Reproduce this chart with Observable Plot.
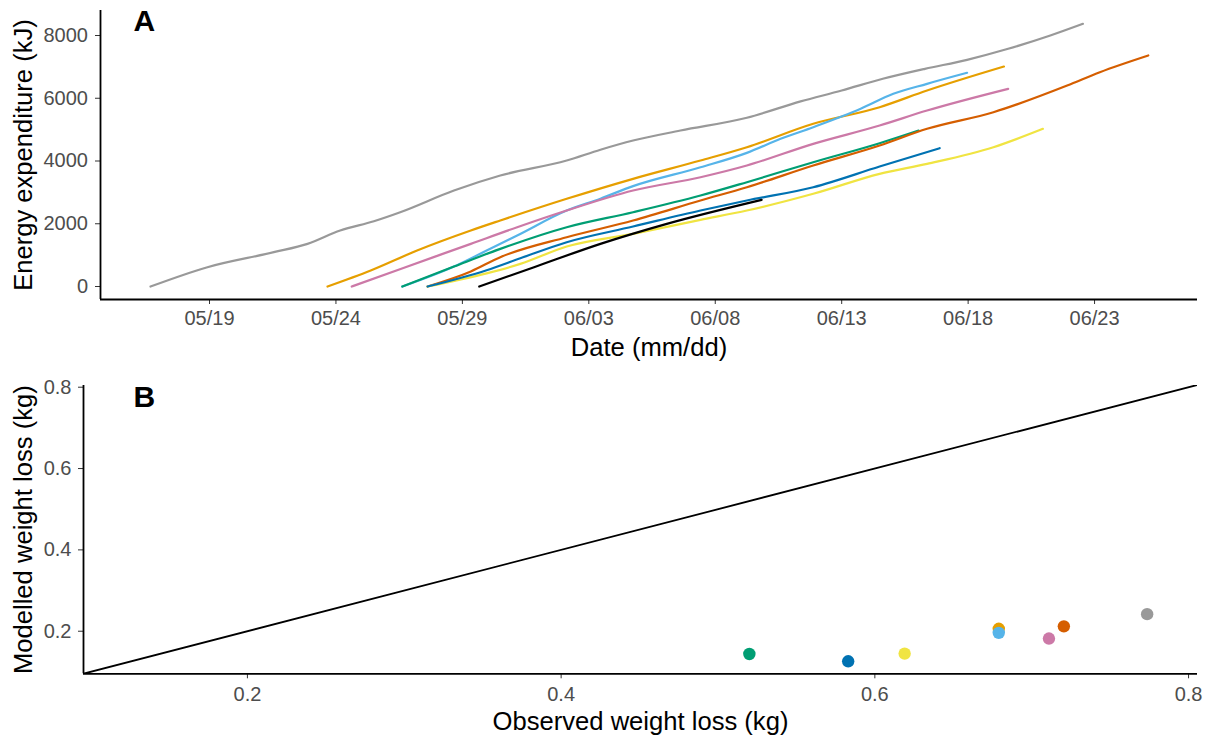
<!DOCTYPE html>
<html><head><meta charset="utf-8">
<script src="https://cdn.jsdelivr.net/npm/d3@7"></script>
<script src="https://cdn.jsdelivr.net/npm/@observablehq/plot@0.6"></script>
<style>body{margin:0;background:#fff} svg{display:block}</style>
</head><body><div id="chart"></div>
<script>
// ---------- Data: panel A (cumulative energy expenditure, kJ) ----------
const individuals = ["I1","I2","I3","I4","I5","I6","I7","I8","I9"];
const colors = ["#999999","#E69F00","#56B4E9","#CC79A7","#009E73","#D55E00","#F0E442","#0072B2","#000000"];

const ind1 = [["2020-05-16T16:00",0],["2020-05-18T22:00",616],["2020-05-21T13:00",1094],["2020-05-22T21:00",1360],["2020-05-24T04:00",1785],["2020-05-25T12:00",2081],["2020-05-26T13:00",2368],["2020-05-28T16:00",3060],["2020-05-30T12:00",3538],["2020-06-02T03:00",4016],["2020-06-03T11:00",4360],["2020-06-04T18:00",4653],["2020-06-06T15:00",4972],["2020-06-09T06:00",5380],["2020-06-11T09:00",5900],["2020-06-13T00:00",6247],["2020-06-14T15:00",6620],["2020-06-16T07:00",6938],["2020-06-17T23:00",7225],["2020-06-19T14:00",7576],["2020-06-21T06:00",8000],["2020-06-22T13:00",8373]];
const ind2 = [["2020-05-23T16:00",0],["2020-05-25T09:00",510],["2020-05-27T05:00",1147],["2020-05-29T08:00",1785],["2020-05-30T12:00",2104],["2020-06-02T03:00",2795],["2020-06-04T18:00",3432],["2020-06-07T10:00",4016],["2020-06-09T06:00",4440],["2020-06-11T21:00",5186],["2020-06-14T12:00",5715],["2020-06-16T09:00",6247],["2020-06-19T10:00",7012]];
const ind3 = [["2020-05-26T15:00",0],["2020-05-28T16:00",637],["2020-05-29T23:00",1147],["2020-05-31T04:00",1625],["2020-06-02T03:00",2420],["2020-06-03T11:00",2800],["2020-06-04T18:00",3200],["2020-06-07T10:00",3800],["2020-06-09T06:00",4260],["2020-06-10T14:00",4707],["2020-06-11T21:00",5078],["2020-06-13T18:00",5664],["2020-06-15T01:00",6141],["2020-06-16T09:00",6460],["2020-06-17T23:00",6811]];
const ind4 = [["2020-05-24T15:00",0],["2020-05-26T16:00",590],["2020-05-29T08:00",1360],["2020-05-31T04:00",1890],["2020-06-02T03:00",2422],["2020-06-04T18:00",3060],["2020-06-07T10:00",3484],["2020-06-09T06:00",3857],["2020-06-11T21:00",4547],["2020-06-14T12:00",5131],["2020-06-16T09:00",5609],["2020-06-19T14:00",6301]];
const ind5 = [["2020-05-26T15:00",0],["2020-05-28T16:00",637],["2020-05-30T12:00",1200],["2020-06-02T03:00",1890],["2020-06-04T18:00",2368],["2020-06-07T10:00",2900],["2020-06-09T06:00",3325],["2020-06-11T21:00",3962],["2020-06-14T12:00",4568],["2020-06-16T01:00",4972]];
const ind6 = [["2020-05-27T15:00",0],["2020-05-29T08:00",480],["2020-05-30T12:00",935],["2020-06-02T03:00",1571],["2020-06-04T18:00",2104],["2020-06-07T10:00",2741],["2020-06-09T06:00",3165],["2020-06-11T21:00",3857],["2020-06-14T12:00",4494],["2020-06-16T09:00",5026],["2020-06-19T00:00",5556],["2020-06-21T22:00",6406],["2020-06-23T05:00",6830],["2020-06-25T03:00",7363]];
const ind7 = [["2020-05-27T15:00",0],["2020-05-29T23:00",420],["2020-05-31T07:00",720],["2020-06-02T03:00",1275],["2020-06-04T18:00",1680],["2020-06-07T10:00",2126],["2020-06-09T06:00",2422],["2020-06-11T21:00",2955],["2020-06-14T12:00",3591],["2020-06-16T09:00",3910],["2020-06-19T00:00",4440],["2020-06-20T23:00",5026]];
const ind8 = [["2020-05-27T15:00",0],["2020-05-29T23:00",520],["2020-05-31T07:00",900],["2020-06-02T03:00",1412],["2020-06-04T18:00",1912],["2020-06-07T10:00",2422],["2020-06-09T06:00",2741],["2020-06-11T21:00",3165],["2020-06-14T12:00",3825],["2020-06-16T21:00",4409]];
const ind9 = [["2020-05-29T16:00",0],["2020-05-31T20:00",615],["2020-06-03T11:00",1360],["2020-06-06T02:00",1998],["2020-06-09T20:00",2763]];
const seriesA = [ind1, ind2, ind3, ind4, ind5, ind6, ind7, ind8, ind9];

const xTicksA = ["2020-05-19","2020-05-24","2020-05-29","2020-06-03","2020-06-08","2020-06-13","2020-06-18","2020-06-23"];
const yTicksA = [0, 2000, 4000, 6000, 8000];

// ---------- Data: panel B (weight loss, kg) ----------
const pointIds = ["I5","I8","I7","I2","I3","I4","I6","I1"];
const observed = [0.520, 0.583, 0.619, 0.679, 0.679, 0.711, 0.7205, 0.7736];
const modelled = [0.144, 0.126, 0.145, 0.206, 0.196, 0.182, 0.212, 0.242];
const ticksB = [0.2, 0.4, 0.6, 0.8];

// ---------- Build tables ----------
const parseT = d3.utcParse("%Y-%m-%dT%H:%M");
const parseD = d3.utcParse("%Y-%m-%d");
const rowsA = seriesA.flatMap((s, i) => s.map(([t, v]) => ({id: individuals[i], date: parseT(t), kJ: v})));
const rowsB = pointIds.map((id, i) => ({id, obs: observed[i], mod: modelled[i]}));

const FONT = "'Liberation Sans', Arial, Helvetica, sans-serif";
const TICK_FS = 20, TITLE_FS = 25.6, TAG_FS = 30;
const colorScale = {domain: individuals, range: colors};

const xDomA = [parseT("2020-05-14T16:32"), parseT("2020-06-27T01:42")];
const yDomA = [-414, 8797];

const plotA = Plot.plot({
  width: 1212, height: 360,
  marginLeft: 100, marginRight: 15, marginTop: 10, marginBottom: 61,
  style: {fontFamily: FONT, fontSize: TICK_FS + "px", color: "#4D4D4D", background: "white", overflow: "visible"},
  x: {type: "utc", domain: xDomA},
  y: {domain: yDomA},
  color: colorScale,
  marks: [
    Plot.line(rowsA, {x: "date", y: "kJ", z: "id", stroke: "id", strokeWidth: 2.2, curve: "monotone-x"}),
    Plot.axisX({ticks: xTicksA.map(parseD), tickFormat: d3.utcFormat("%m/%d"), tickSize: 5, tickPadding: 6, label: null, fontSize: TICK_FS, stroke: "#333"}),
    Plot.axisY({ticks: yTicksA, tickFormat: d3.format("d"), tickSize: 5, tickPadding: 7.5, label: null, fontSize: TICK_FS, stroke: "#333"}),
    Plot.ruleX([xDomA[0]], {stroke: "black", strokeWidth: 1.8}),
    Plot.ruleY([yDomA[0]], {stroke: "black", strokeWidth: 1.8}),
    Plot.text(["Date (mm/dd)"], {text: d => d, frameAnchor: "bottom", dy: 38, lineAnchor: "top", fontSize: TITLE_FS, fill: "black"}),
    Plot.text(["Energy expenditure (kJ)"], {text: d => d, frameAnchor: "left", rotate: -90, dx: -77, textAnchor: "middle", lineAnchor: "middle", fontSize: TITLE_FS, fill: "black"}),
    Plot.text(["A"], {text: d => d, frameAnchor: "top-left", dx: 33, dy: -0.6, textAnchor: "start", lineAnchor: "top", fontSize: TAG_FS, fontWeight: "bold", fill: "black"})
  ]
});

const xDomB = [0.0955, 0.8057];
const yDomB = [0.0953, 0.8042];

const plotB = Plot.plot({
  width: 1212, height: 376,
  marginLeft: 83, marginRight: 15, marginTop: 25, marginBottom: 62.7,
  style: {fontFamily: FONT, fontSize: TICK_FS + "px", color: "#4D4D4D", background: "white", overflow: "visible"},
  x: {domain: xDomB},
  y: {domain: yDomB},
  color: colorScale,
  marks: [
    Plot.line(xDomB.map(v => ({v})), {x: "v", y: "v", stroke: "black", strokeWidth: 1.8, clip: true}),
    Plot.dot(rowsB, {x: "obs", y: "mod", fill: "id", r: 6.2}),
    Plot.axisX({ticks: ticksB, tickSize: 5, tickPadding: 8, label: null, fontSize: TICK_FS, stroke: "#333"}),
    Plot.axisY({ticks: ticksB, tickSize: 5, tickPadding: 7, label: null, fontSize: TICK_FS, stroke: "#333"}),
    Plot.ruleX([xDomB[0]], {stroke: "black", strokeWidth: 1.8}),
    Plot.ruleY([yDomB[0]], {stroke: "black", strokeWidth: 1.8}),
    Plot.text(["Observed weight loss (kg)"], {text: d => d, frameAnchor: "bottom", dy: 38, lineAnchor: "top", fontSize: TITLE_FS, fill: "black"}),
    Plot.text(["Modelled weight loss (kg)"], {text: d => d, frameAnchor: "left", rotate: -90, dx: -60, textAnchor: "middle", lineAnchor: "middle", fontSize: TITLE_FS, fill: "black"}),
    Plot.text(["B"], {text: d => d, frameAnchor: "top-left", dx: 50, dy: 0.5, textAnchor: "start", lineAnchor: "top", fontSize: TAG_FS, fontWeight: "bold", fill: "black"})
  ]
});

const chart = document.getElementById("chart");
chart.appendChild(plotA);
chart.appendChild(plotB);
</script></body></html>
